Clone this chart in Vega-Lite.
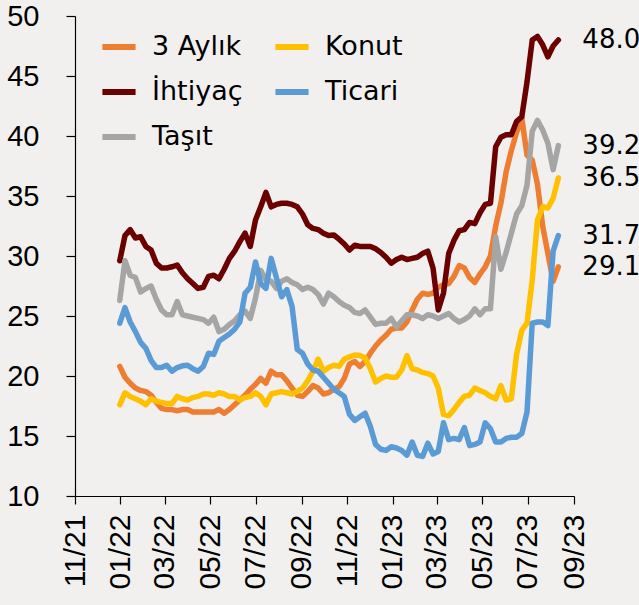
{
  "$schema": "https://vega.github.io/schema/vega-lite/v6.json",
  "width": 499,
  "height": 480,
  "autosize": {"type": "none"},
  "padding": {"left": 75, "top": 16, "right": 65, "bottom": 109},
  "background": "#f2f0ef",
  "config": {
    "view": {"stroke": null},
    "axis": {"domainColor": "#000", "tickColor": "#000", "labelColor": "#000", "labelFont": "Liberation Sans", "labelFontSize": 30, "grid": false, "title": null, "domainWidth": 1.2, "tickWidth": 1.2}
  },
  "datasets": {
    "w": [
      {"d": "2021-12-31", "3 Aylık": 20.8, "İhtiyaç": 29.6, "Taşıt": 26.3, "Konut": 17.6, "Ticari": 24.4},
      {"d": "2022-01-07", "3 Aylık": 19.9, "İhtiyaç": 31.7, "Taşıt": 29.6, "Konut": 18.6, "Ticari": 25.7},
      {"d": "2022-01-14", "3 Aylık": 19.4, "İhtiyaç": 32.2, "Taşıt": 28.4, "Konut": 18.3, "Ticari": 24.5},
      {"d": "2022-01-21", "3 Aylık": 19.0, "İhtiyaç": 31.5, "Taşıt": 28.2, "Konut": 18.1, "Ticari": 23.7},
      {"d": "2022-01-28", "3 Aylık": 18.8, "İhtiyaç": 31.6, "Taşıt": 27.0, "Konut": 17.9, "Ticari": 22.8},
      {"d": "2022-02-04", "3 Aylık": 18.7, "İhtiyaç": 30.8, "Taşıt": 27.3, "Konut": 17.6, "Ticari": 22.3},
      {"d": "2022-02-11", "3 Aylık": 18.4, "İhtiyaç": 30.5, "Taşıt": 27.5, "Konut": 18.1, "Ticari": 21.3},
      {"d": "2022-02-18", "3 Aylık": 17.8, "İhtiyaç": 29.4, "Taşıt": 26.4, "Konut": 17.9, "Ticari": 20.7},
      {"d": "2022-02-25", "3 Aylık": 17.3, "İhtiyaç": 29.0, "Taşıt": 25.5, "Konut": 17.8, "Ticari": 20.7},
      {"d": "2022-03-04", "3 Aylık": 17.2, "İhtiyaç": 29.0, "Taşıt": 25.1, "Konut": 17.7, "Ticari": 20.9},
      {"d": "2022-03-11", "3 Aylık": 17.2, "İhtiyaç": 29.1, "Taşıt": 25.1, "Konut": 17.7, "Ticari": 20.4},
      {"d": "2022-03-18", "3 Aylık": 17.1, "İhtiyaç": 29.25, "Taşıt": 26.2, "Konut": 18.3, "Ticari": 20.7},
      {"d": "2022-03-25", "3 Aylık": 17.2, "İhtiyaç": 28.6, "Taşıt": 25.1, "Konut": 18.1, "Ticari": 20.85},
      {"d": "2022-04-01", "3 Aylık": 17.2, "İhtiyaç": 28.1, "Taşıt": 25.0, "Konut": 18.0, "Ticari": 20.9},
      {"d": "2022-04-08", "3 Aylık": 17.0, "İhtiyaç": 27.7, "Taşıt": 24.9, "Konut": 18.2, "Ticari": 20.6},
      {"d": "2022-04-15", "3 Aylık": 17.0, "İhtiyaç": 27.3, "Taşıt": 24.8, "Konut": 18.3, "Ticari": 20.4},
      {"d": "2022-04-22", "3 Aylık": 17.0, "İhtiyaç": 27.4, "Taşıt": 24.7, "Konut": 18.5, "Ticari": 20.8},
      {"d": "2022-04-29", "3 Aylık": 17.0, "İhtiyaç": 28.3, "Taşıt": 24.4, "Konut": 18.5, "Ticari": 21.9},
      {"d": "2022-05-06", "3 Aylık": 17.0, "İhtiyaç": 28.4, "Taşıt": 24.9, "Konut": 18.4, "Ticari": 21.8},
      {"d": "2022-05-13", "3 Aylık": 17.2, "İhtiyaç": 28.1, "Taşıt": 23.7, "Konut": 18.6, "Ticari": 22.9},
      {"d": "2022-05-20", "3 Aylık": 16.9, "İhtiyaç": 28.9, "Taşıt": 23.9, "Konut": 18.5, "Ticari": 23.2},
      {"d": "2022-05-27", "3 Aylık": 17.2, "İhtiyaç": 29.8, "Taşıt": 24.3, "Konut": 18.3, "Ticari": 23.5},
      {"d": "2022-06-03", "3 Aylık": 17.6, "İhtiyaç": 30.4, "Taşıt": 24.6, "Konut": 18.3, "Ticari": 23.9},
      {"d": "2022-06-10", "3 Aylık": 18.0, "İhtiyaç": 31.2, "Taşıt": 25.1, "Konut": 18.0, "Ticari": 24.5},
      {"d": "2022-06-17", "3 Aylık": 18.4, "İhtiyaç": 31.9, "Taşıt": 25.4, "Konut": 18.2, "Ticari": 26.9},
      {"d": "2022-06-24", "3 Aylık": 18.9, "İhtiyaç": 30.8, "Taşıt": 24.8, "Konut": 18.3, "Ticari": 27.4},
      {"d": "2022-07-01", "3 Aylık": 19.3, "İhtiyaç": 33.0, "Taşıt": 26.5, "Konut": 18.6, "Ticari": 29.5},
      {"d": "2022-07-08", "3 Aylık": 19.8, "İhtiyaç": 34.1, "Taşıt": 28.8, "Konut": 18.3, "Ticari": 27.7},
      {"d": "2022-07-15", "3 Aylık": 19.4, "İhtiyaç": 35.3, "Taşıt": 28.0, "Konut": 17.6, "Ticari": 27.3},
      {"d": "2022-07-22", "3 Aylık": 20.4, "İhtiyaç": 34.1, "Taşıt": 27.9, "Konut": 18.5, "Ticari": 29.8},
      {"d": "2022-07-29", "3 Aylık": 20.1, "İhtiyaç": 34.3, "Taşıt": 27.3, "Konut": 18.6, "Ticari": 28.2},
      {"d": "2022-08-05", "3 Aylık": 20.1, "İhtiyaç": 34.4, "Taşıt": 27.9, "Konut": 18.7, "Ticari": 26.6},
      {"d": "2022-08-12", "3 Aylık": 19.6, "İhtiyaç": 34.4, "Taşıt": 28.1, "Konut": 18.6, "Ticari": 27.2},
      {"d": "2022-08-19", "3 Aylık": 19.0, "İhtiyaç": 34.3, "Taşıt": 27.8, "Konut": 18.5, "Ticari": 25.8},
      {"d": "2022-08-26", "3 Aylık": 18.4, "İhtiyaç": 34.1, "Taşıt": 27.6, "Konut": 18.7, "Ticari": 22.2},
      {"d": "2022-09-02", "3 Aylık": 18.3, "İhtiyaç": 33.5, "Taşıt": 27.2, "Konut": 19.0, "Ticari": 21.9},
      {"d": "2022-09-09", "3 Aylık": 18.7, "İhtiyaç": 32.6, "Taşıt": 27.4, "Konut": 19.6, "Ticari": 21.0},
      {"d": "2022-09-16", "3 Aylık": 19.2, "İhtiyaç": 32.3, "Taşıt": 27.2, "Konut": 20.4, "Ticari": 20.5},
      {"d": "2022-09-23", "3 Aylık": 19.0, "İhtiyaç": 32.2, "Taşıt": 26.8, "Konut": 21.4, "Ticari": 20.4},
      {"d": "2022-09-30", "3 Aylık": 18.5, "İhtiyaç": 31.9, "Taşıt": 26.0, "Konut": 20.4, "Ticari": 19.9},
      {"d": "2022-10-07", "3 Aylık": 18.6, "İhtiyaç": 31.7, "Taşıt": 26.9, "Konut": 20.7, "Ticari": 19.4},
      {"d": "2022-10-14", "3 Aylık": 18.9, "İhtiyaç": 31.75, "Taşıt": 26.6, "Konut": 20.9, "Ticari": 18.9},
      {"d": "2022-10-21", "3 Aylık": 19.1, "İhtiyaç": 31.4, "Taşıt": 26.2, "Konut": 20.8, "Ticari": 18.6},
      {"d": "2022-10-28", "3 Aylık": 19.8, "İhtiyaç": 31.0, "Taşıt": 25.9, "Konut": 21.4, "Ticari": 18.3},
      {"d": "2022-11-04", "3 Aylık": 21.0, "İhtiyaç": 30.5, "Taşıt": 25.7, "Konut": 21.6, "Ticari": 16.8},
      {"d": "2022-11-11", "3 Aylık": 21.2, "İhtiyaç": 30.9, "Taşıt": 25.3, "Konut": 21.75, "Ticari": 16.3},
      {"d": "2022-11-18", "3 Aylık": 20.8, "İhtiyaç": 30.8, "Taşıt": 25.2, "Konut": 21.7, "Ticari": 16.6},
      {"d": "2022-11-25", "3 Aylık": 21.2, "İhtiyaç": 30.8, "Taşıt": 25.5, "Konut": 21.5, "Ticari": 16.9},
      {"d": "2022-12-02", "3 Aylık": 21.9, "İhtiyaç": 30.8, "Taşıt": 24.9, "Konut": 20.6, "Ticari": 15.8},
      {"d": "2022-12-09", "3 Aylık": 22.5, "İhtiyaç": 30.6, "Taşıt": 24.3, "Konut": 19.5, "Ticari": 14.3},
      {"d": "2022-12-16", "3 Aylık": 23.0, "İhtiyaç": 30.3, "Taşıt": 24.4, "Konut": 19.8, "Ticari": 13.9},
      {"d": "2022-12-23", "3 Aylık": 23.4, "İhtiyaç": 29.9, "Taşıt": 24.4, "Konut": 20.0, "Ticari": 13.8},
      {"d": "2022-12-30", "3 Aylık": 23.9, "İhtiyaç": 29.4, "Taşıt": 24.8, "Konut": 19.9, "Ticari": 14.1},
      {"d": "2023-01-06", "3 Aylık": 24.0, "İhtiyaç": 29.7, "Taşıt": 24.1, "Konut": 19.9, "Ticari": 14.0},
      {"d": "2023-01-13", "3 Aylık": 24.0, "İhtiyaç": 29.9, "Taşıt": 24.6, "Konut": 20.5, "Ticari": 13.8},
      {"d": "2023-01-20", "3 Aylık": 24.5, "İhtiyaç": 29.7, "Taşıt": 25.1, "Konut": 21.7, "Ticari": 13.4},
      {"d": "2023-01-27", "3 Aylık": 25.5, "İhtiyaç": 29.8, "Taşıt": 25.1, "Konut": 20.6, "Ticari": 14.5},
      {"d": "2023-02-03", "3 Aylık": 26.4, "İhtiyaç": 29.9, "Taşıt": 25.0, "Konut": 20.5, "Ticari": 13.4},
      {"d": "2023-02-10", "3 Aylık": 26.9, "İhtiyaç": 30.2, "Taşıt": 24.8, "Konut": 20.3, "Ticari": 13.3},
      {"d": "2023-02-17", "3 Aylık": 26.8, "İhtiyaç": 30.4, "Taşıt": 25.1, "Konut": 20.2, "Ticari": 14.4},
      {"d": "2023-02-24", "3 Aylık": 26.9, "İhtiyaç": 29.0, "Taşıt": 25.0, "Konut": 20.0, "Ticari": 13.5},
      {"d": "2023-03-03", "3 Aylık": 27.4, "İhtiyaç": 25.5, "Taşıt": 24.8, "Konut": 19.0, "Ticari": 13.7},
      {"d": "2023-03-10", "3 Aylık": 27.6, "İhtiyaç": 26.9, "Taşıt": 25.0, "Konut": 16.8, "Ticari": 16.1},
      {"d": "2023-03-17", "3 Aylık": 27.7, "İhtiyaç": 30.2, "Taşıt": 25.2, "Konut": 16.7, "Ticari": 14.7},
      {"d": "2023-03-24", "3 Aylık": 28.3, "İhtiyaç": 31.3, "Taşıt": 24.8, "Konut": 17.2, "Ticari": 14.8},
      {"d": "2023-03-31", "3 Aylık": 29.2, "İhtiyaç": 32.1, "Taşıt": 24.5, "Konut": 17.8, "Ticari": 14.7},
      {"d": "2023-04-07", "3 Aylık": 29.0, "İhtiyaç": 32.2, "Taşıt": 24.7, "Konut": 18.3, "Ticari": 15.7},
      {"d": "2023-04-14", "3 Aylık": 28.2, "İhtiyaç": 32.8, "Taşıt": 25.0, "Konut": 18.4, "Ticari": 14.2},
      {"d": "2023-04-21", "3 Aylık": 27.8, "İhtiyaç": 32.7, "Taşıt": 25.6, "Konut": 19.0, "Ticari": 14.3},
      {"d": "2023-04-28", "3 Aylık": 28.5, "İhtiyaç": 33.6, "Taşıt": 25.1, "Konut": 18.8, "Ticari": 14.5},
      {"d": "2023-05-05", "3 Aylık": 29.1, "İhtiyaç": 34.3, "Taşıt": 25.6, "Konut": 18.6, "Ticari": 16.1},
      {"d": "2023-05-12", "3 Aylık": 30.0, "İhtiyaç": 34.4, "Taşıt": 25.6, "Konut": 18.3, "Ticari": 15.6},
      {"d": "2023-05-19", "3 Aylık": 32.5, "İhtiyaç": 39.1, "Taşıt": 31.6, "Konut": 18.1, "Ticari": 14.5},
      {"d": "2023-05-26", "3 Aylık": 34.4, "İhtiyaç": 39.9, "Taşıt": 28.9, "Konut": 19.2, "Ticari": 14.5},
      {"d": "2023-06-02", "3 Aylık": 37.0, "İhtiyaç": 40.1, "Taşıt": 30.3, "Konut": 18.0, "Ticari": 14.8},
      {"d": "2023-06-09", "3 Aylık": 38.8, "İhtiyaç": 40.1, "Taşıt": 31.9, "Konut": 18.1, "Ticari": 14.9},
      {"d": "2023-06-16", "3 Aylık": 40.3, "İhtiyaç": 41.2, "Taşıt": 33.5, "Konut": 21.8, "Ticari": 14.9},
      {"d": "2023-06-23", "3 Aylık": 41.5, "İhtiyaç": 41.6, "Taşıt": 34.2, "Konut": 23.8, "Ticari": 15.2},
      {"d": "2023-06-30", "3 Aylık": 38.4, "İhtiyaç": 44.5, "Taşıt": 35.9, "Konut": 24.4, "Ticari": 17.0},
      {"d": "2023-07-07", "3 Aylık": 38.0, "İhtiyaç": 48.0, "Taşıt": 40.4, "Konut": 28.0, "Ticari": 24.4},
      {"d": "2023-07-14", "3 Aylık": 36.0, "İhtiyaç": 48.3, "Taşıt": 41.3, "Konut": 33.0, "Ticari": 24.5},
      {"d": "2023-07-21", "3 Aylık": 32.5, "İhtiyaç": 47.6, "Taşıt": 40.5, "Konut": 34.1, "Ticari": 24.5},
      {"d": "2023-07-28", "3 Aylık": 30.2, "İhtiyaç": 46.6, "Taşıt": 39.4, "Konut": 34.0, "Ticari": 24.2},
      {"d": "2023-08-04", "3 Aylık": 27.9, "İhtiyaç": 47.5, "Taşıt": 37.2, "Konut": 34.8, "Ticari": 30.4},
      {"d": "2023-08-11", "3 Aylık": 29.1, "İhtiyaç": 48.0, "Taşıt": 39.2, "Konut": 36.5, "Ticari": 31.7}
    ],
    "end": [
      {"d": "2023-08-11", "v": 48.0},
      {"d": "2023-08-11", "v": 39.2},
      {"d": "2023-08-11", "v": 36.5},
      {"d": "2023-08-11", "v": 31.7},
      {"d": "2023-08-11", "v": 29.1}
    ]
  },
  "layer": [
    {
      "data": {"name": "w"},
      "transform": [{"fold": ["3 Aylık", "İhtiyaç", "Taşıt", "Konut", "Ticari"], "as": ["s", "v"]}],
      "mark": {"type": "line", "strokeWidth": 5.5, "strokeCap": "round", "strokeJoin": "round"},
      "encoding": {
        "x": {
          "field": "d", "type": "temporal",
          "scale": {"type": "utc", "domain": [{"year": 2021, "month": 11, "date": 1, "utc": true}, {"year": 2023, "month": 9, "date": 1, "utc": true}]},
          "axis": {
            "values": [
              {"year": 2021, "month": 11, "date": 1, "utc": true},
              {"year": 2022, "month": 1, "date": 1, "utc": true},
              {"year": 2022, "month": 3, "date": 1, "utc": true},
              {"year": 2022, "month": 5, "date": 1, "utc": true},
              {"year": 2022, "month": 7, "date": 1, "utc": true},
              {"year": 2022, "month": 9, "date": 1, "utc": true},
              {"year": 2022, "month": 11, "date": 1, "utc": true},
              {"year": 2023, "month": 1, "date": 1, "utc": true},
              {"year": 2023, "month": 3, "date": 1, "utc": true},
              {"year": 2023, "month": 5, "date": 1, "utc": true},
              {"year": 2023, "month": 7, "date": 1, "utc": true},
              {"year": 2023, "month": 9, "date": 1, "utc": true}
            ],
            "labelExpr": "utcFormat(datum.value, '%m/%y')",
            "labelAngle": -90,
            "tickSize": 8,
            "labelPadding": 10,
            "labelFlush": false,
            "labelOverlap": false
          }
        },
        "y": {
          "field": "v", "type": "quantitative",
          "scale": {"domain": [10, 50], "nice": false, "zero": false},
          "axis": {"values": [10, 15, 20, 25, 30, 35, 40, 45, 50], "tickSize": 9, "labelPadding": 27, "labelFontSize": 29, "labelFlush": false}
        },
        "color": {
          "field": "s", "type": "nominal",
          "scale": {"domain": ["3 Aylık", "İhtiyaç", "Taşıt", "Konut", "Ticari"], "range": ["#ED7D31", "#6B0000", "#A5A5A5", "#FFC000", "#5B9BD5"]},
          "legend": {
            "orient": "none", "legendX": 24, "legendY": 11, "columns": 2, "title": null, "padding": 0,
            "symbolType": "stroke", "symbolStrokeWidth": 6, "symbolSize": 1100,
            "labelFont": "DejaVu Sans", "labelFontSize": 27, "labelColor": "#000", "labelOffset": 13,
            "rowPadding": 12, "columnPadding": 20
          }
        }
      }
    },
    {
      "data": {"name": "end"},
      "mark": {"type": "text", "align": "left", "baseline": "middle", "dx": 24, "font": "DejaVu Sans", "fontSize": 26, "color": "#000"},
      "encoding": {
        "x": {"field": "d", "type": "temporal"},
        "y": {"field": "v", "type": "quantitative"},
        "text": {"field": "v", "type": "quantitative", "format": ".1f"}
      }
    }
  ]
}
